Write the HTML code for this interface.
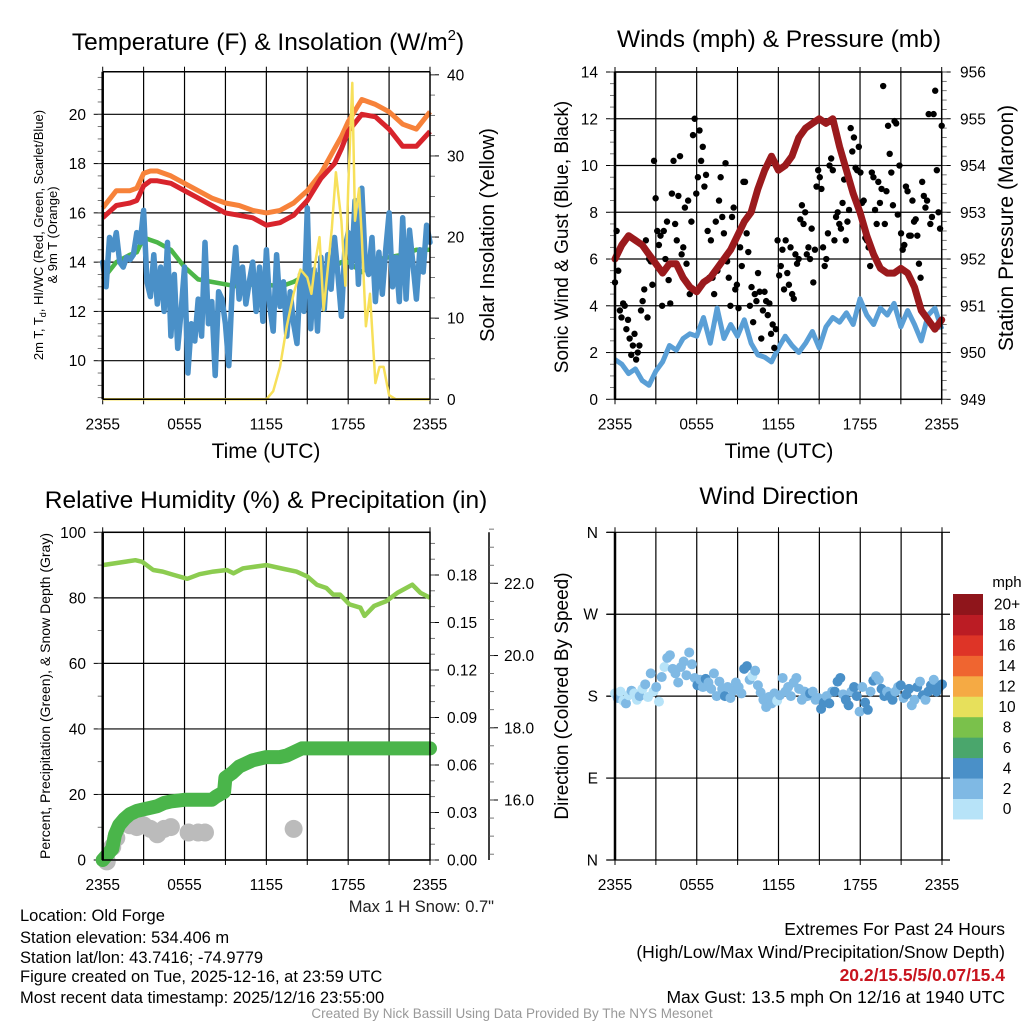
<!DOCTYPE html>
<html><head><meta charset="utf-8">
<style>
html,body{margin:0;padding:0;background:#fff;}
svg{display:block;font-family:"Liberation Sans",sans-serif;}
</style></head>
<body>
<svg id="c" width="1024" height="1024" viewBox="0 0 1024 1024" xmlns="http://www.w3.org/2000/svg">
<rect width="1024" height="1024" fill="#fff"/>
<g id="layer"></g>
<!-- titles -->
<text x="268" y="50" font-size="24.5" text-anchor="middle">Temperature (F) &amp; Insolation (W/m<tspan font-size="15" dy="-10">2</tspan><tspan dy="10">)</tspan></text>
<text x="779" y="47" font-size="24.5" text-anchor="middle">Winds (mph) &amp; Pressure (mb)</text>
<text x="266" y="508" font-size="24.5" text-anchor="middle">Relative Humidity (%) &amp; Precipitation (in)</text>
<text x="779" y="504" font-size="24.5" text-anchor="middle">Wind Direction</text>
<!-- axis titles -->
<text transform="translate(43,235) rotate(-90)" font-size="13" text-anchor="middle">2m T, T<tspan font-size="9" dy="3">d</tspan><tspan dy="-3">, HI/WC (Red, Green, Scarlet/Blue)</tspan></text>
<text transform="translate(57,235) rotate(-90)" font-size="13" text-anchor="middle">&amp; 9m T (Orange)</text>
<text transform="translate(494,235) rotate(-90)" font-size="20" text-anchor="middle">Solar Insolation (Yellow)</text>
<text x="266" y="458" font-size="21" text-anchor="middle">Time (UTC)</text>
<text transform="translate(568,237) rotate(-90)" font-size="19" text-anchor="middle">Sonic Wind &amp; Gust (Blue, Black)</text>
<text transform="translate(1013,228) rotate(-90)" font-size="21" text-anchor="middle">Station Pressure (Maroon)</text>
<text x="779" y="458" font-size="21" text-anchor="middle">Time (UTC)</text>
<text transform="translate(50,696) rotate(-90)" font-size="14" text-anchor="middle">Percent, Precipitation (Green), &amp; Snow Depth (Gray)</text>
<text transform="translate(568,696) rotate(-90)" font-size="19" text-anchor="middle">Direction (Colored By Speed)</text>
<text x="1007" y="587" font-size="15" text-anchor="middle">mph</text>
<text x="494" y="912" font-size="16.5" text-anchor="end" fill="#222">Max 1 H Snow: 0.7"</text>
<!-- footer -->
<g font-size="16.5" fill="#000">
<text x="20" y="921">Location: Old Forge</text>
<text x="20" y="943">Station elevation: 534.406 m</text>
<text x="20" y="963">Station lat/lon: 43.7416; -74.9779</text>
<text x="20" y="982">Figure created on Tue, 2025-12-16, at 23:59 UTC</text>
<text x="20" y="1003">Most recent data timestamp: 2025/12/16 23:55:00</text>
</g>
<g font-size="17.5" text-anchor="end">
<text x="1005" y="935">Extremes For Past 24 Hours</text>
<text x="1005" y="958">(High/Low/Max Wind/Precipitation/Snow Depth)</text>
<text x="1005" y="981" fill="#c8141e" font-weight="bold">20.2/15.5/5/0.07/15.4</text>
<text x="1005" y="1003">Max Gust: 13.5 mph On 12/16 at 1940 UTC</text>
</g>
<text x="512" y="1018" font-size="13.5" fill="#999" text-anchor="middle">Created By Nick Bassill Using Data Provided By The NYS Mesonet</text>
</svg>
<script>
// ---------- data ----------
const xTickLabels=["2355","0555","1155","1755","2355"];
const tempHours=[0,1,2,2.5,3,3.5,4,5,6,7,8,9,10,11,12,13,14,15,16,17,17.5,18,19,20,21,22,23,24];
const tempRed=[15.8,16.3,16.4,16.5,17.1,17.3,17.3,17.2,16.9,16.6,16.3,16.0,15.9,15.8,15.5,15.6,15.9,16.5,17.4,18.0,18.6,19.3,20.0,19.9,19.4,18.7,18.7,19.3];
const tempOrange=[16.2,16.9,16.9,17.0,17.6,17.7,17.7,17.5,17.2,16.9,16.6,16.4,16.3,16.1,16.0,16.1,16.4,16.9,17.6,18.6,19.1,19.7,20.6,20.4,20.1,19.6,19.4,20.1];
const tempGreen=[13.3,14.0,14.3,14.4,15.0,14.9,14.8,14.5,13.8,13.3,13.2,13.1,13.0,13.1,13.1,13.0,13.2,13.5,13.5,13.8,14.0,14.0,13.6,14.1,14.2,14.3,14.5,14.5];
const windChill=[14,13,15,14.5,15.2,14,13.8,14.2,14.1,14.3,15.2,14.8,16.1,13.2,12.6,14.3,12.3,13.8,12.0,14.8,11.0,13.5,10.5,12.0,13.8,9.5,11.5,10.8,12.5,11.0,14.8,11.5,12.4,9.4,12.8,12.5,11.5,9.8,13.0,14.6,12.5,13.8,12.3,13.2,14.0,12.0,13.8,11.6,14.5,12.2,11.2,14.3,12.2,13.2,11.0,12.8,11.5,10.7,13.5,12.0,16.2,11.3,13.7,11.2,14.2,12.1,14.3,12.9,15.0,13.5,11.8,14.5,15.2,13.8,16.5,13.1,17.0,14.0,13.5,15.0,12.4,14.4,12.7,14.5,16.0,13.0,14.2,12.4,15.8,12.5,15.3,13.9,12.5,14.5,13.6,15.5,14.8];
const solHours=[0,12,12.5,13,13.5,14,14.5,15,15.3,15.6,15.9,16.2,16.5,16.8,17.1,17.3,17.5,17.8,18.0,18.3,18.5,18.8,19.0,19.3,19.6,20,20.3,20.6,21,21.5,24];
const solVal=[0,0,1,4,9,13,16,15,13,17,20,11,16,21,28,25,22,14,26,39,22,26,20,9,13,2,4,4,0.5,0,0];
const windSpeed=[1.7,1.5,1.1,1.3,0.8,0.6,1.2,1.6,2.3,2.1,2.6,2.8,2.7,3.5,2.4,3.9,2.6,3.2,2.7,3.4,2.4,1.9,1.8,1.6,2.2,2.7,2.3,2.0,2.4,2.9,2.2,3.1,3.5,3.3,3.7,3.2,4.3,3.6,3.2,3.9,3.6,4.1,3.1,3.8,3.2,2.5,3.6,3.9,3.0];
const pressure=[952.0,952.3,952.5,952.4,952.3,952.1,951.9,951.7,951.9,951.9,951.6,951.4,951.3,951.5,951.6,951.8,952.0,952.2,952.5,952.8,953.0,953.5,953.9,954.2,953.9,954.0,954.2,954.6,954.8,954.9,955.0,954.9,955.0,954.4,953.9,953.4,953.0,952.5,952.1,951.8,951.7,951.7,951.8,951.7,951.4,950.9,950.7,950.5,950.7];
const gusts=[5.0,7.2,5.5,3.8,3.5,4.1,4.0,3.0,3.4,2.6,1.9,2.3,2.8,1.7,2.0,2.3,
3.8,4.2,4.7,6.8,3.5,6.0,5.9,4.9,10.2,8.6,7.2,6.6,7.0,4.0,7.2,6.0,
7.6,5.1,4.1,8.8,10.2,7.5,6.8,8.7,10.4,6.2,6.5,8.2,5.8,8.5,4.5,7.6,
11.3,12.0,8.8,9.5,11.5,10.2,10.8,9.1,9.6,7.2,5.2,6.8,5.2,4.5,7.6,5.5,
8.5,9.5,7.8,7.1,10.1,5.9,5.2,4.0,7.8,8.2,4.7,4.9,3.9,6.5,5.7,9.3,
9.3,7.1,6.3,4.0,4.8,3.3,4.5,4.2,5.4,4.6,2.6,3.8,4.6,4.2,3.6,4.1,2.8,3.2,2.2,3.0,
6.8,5.3,5.7,6.4,4.7,6.8,5.4,4.9,6.5,4.5,4.3,6.2,5.8,6.0,
7.7,8.3,7.5,8.0,6.2,6.5,6.0,7.3,5.0,6.4,9.1,9.8,9.5,9.0,6.5,5.7,6.0,
7.1,10.0,10.3,9.8,6.8,7.8,8.0,7.5,7.3,8.4,9.4,6.8,7.6,8.1,11.6,10.6,11.2,9.9,
9.8,10.8,9.7,8.4,8.5,6.9,6.8,6.5,5.7,9.7,9.5,8.1,7.5,9.3,8.4,9.0,13.4,
7.5,8.9,11.7,10.5,9.7,8.3,11.9,11.8,7.9,10.0,7.1,6.4,6.6,9.1,8.9,7.0,7.0,8.5,
7.6,7.7,7.0,5.8,5.2,9.3,8.7,8.2,8.5,12.2,7.5,7.8,12.2,13.2,9.8,8.0,7.3,11.7];
const rhHours=[0,2.4,2.9,3.7,4.4,5.2,6.2,7.1,8.1,9.1,9.6,10.3,12,13.3,14.2,15,15.7,16.4,16.9,17.4,18.1,18.9,19.2,19.9,20.8,21.6,22.7,23.3,24];
const rhVal=[90,91.5,91,88.5,88,87,85.8,87.2,88,88.5,87.5,89,90,88.8,88,86.5,84,83,81,81,78,77,74.5,77.5,79,81.5,84,81.5,80];
const precipHours=[0,0.3,0.7,0.9,1.2,1.6,2.0,2.5,3,3.5,4,4.5,5,6,7,8,8.3,8.9,9.0,9.5,10,10.5,11,12,13,13.5,14,14.6,24];
const precipVal=[0,0.003,0.007,0.016,0.022,0.026,0.029,0.031,0.032,0.033,0.034,0.036,0.037,0.038,0.038,0.038,0.040,0.043,0.052,0.055,0.059,0.061,0.063,0.065,0.065,0.066,0.068,0.0705,0.0705];
const snowHours=[0.3,0.7,1.0,1.6,2.0,2.5,3,3.5,4,4.5,5,6.3,7.0,7.5,14.0];
const snowVal=[14.3,14.7,14.95,15.35,15.3,15.25,15.3,15.2,15.05,15.2,15.25,15.1,15.1,15.1,15.2];
const dirs=[183,178,185,175,172,181,186,183,176,180,188,193,179,205,185,190,174,201,212,222,225,210,205,195,212,218,203,228,215,200,192,198,190,199,195,188,205,180,196,188,180,190,178,186,195,190,183,210,213,198,202,208,192,184,176,168,179,172,183,175,181,200,185,190,180,195,200,188,176,185,180,183,185,176,178,166,173,180,172,185,185,196,200,182,176,170,185,190,180,163,190,173,165,185,197,202,198,188,180,185,180,176,185,190,192,178,182,188,170,176,190,196,181,176,185,192,198,185,190,193];
const dirSpeeds=[1.5,2.5,1.2,1.8,2.2,1.0,2.6,1.5,1.3,2.4,1.8,2.2,1.1,2.5,1.6,2.8,1.4,2.9,1.2,3.1,2.6,2.4,3.0,2.8,2.3,2.5,3.2,2.7,2.6,3.4,4.2,3.1,2.6,4.3,2.8,3.0,2.4,3.5,2.6,2.9,4.1,2.5,3.0,2.7,3.3,2.6,2.4,4.4,4.1,2.5,1.8,2.8,2.6,3.0,2.7,2.5,3.1,2.4,2.8,1.9,2.6,3.5,2.4,3.2,2.9,2.7,3.0,2.6,2.8,3.3,3.0,4.2,3.1,2.8,3.4,4.4,4.2,3.6,4.3,3.2,4.1,4.5,4.3,3.5,4.2,4.4,3.3,4.2,4.6,3.2,3.0,4.1,4.4,3.6,4.2,3.1,3.5,4.3,4.2,3.3,4.1,4.4,3.6,2.9,4.2,3.2,4.3,4.0,3.4,3.1,4.2,3.6,4.5,3.2,4.1,4.6,3.5,4.2,4.4,4.5];
const cbarLabels=["0","2","4","6","8","10","12","14","16","18","20+"];
const cbarColors=["#b7e3f8","#7fb9e4","#4a90c8","#4aa66c","#7ac14b","#e7e05b","#f5aa44","#ef6530","#de3427","#bb1c24","#8f151b"];

// ---------- helpers ----------
const NS="http://www.w3.org/2000/svg";
const layer=document.getElementById('layer');
const TFS=15.5;
function mk(tag,attrs,parent){const e=document.createElementNS(NS,tag);for(const k in attrs)e.setAttribute(k,attrs[k]);(parent||layer).appendChild(e);return e;}
function lin(d0,d1,r0,r1){return v=>r0+(v-d0)*(r1-r0)/(d1-d0);}
function pathFrom(xs,ys,fx,fy){return xs.map((x,i)=>(i?'L':'M')+fx(x).toFixed(1)+','+fy(ys[i]).toFixed(1)).join('');}

function frame(L,R,T,B,name){
  const g=mk('g',{});
  
  
  const fx=lin(0,24,L,R);
  for(let h=3;h<24;h+=3){const x=fx(h);mk('line',{x1:x,y1:T,x2:x,y2:B,stroke:'#000','stroke-width':1.2},g);}
  for(let h=0;h<=24;h+=3){const x=fx(h);mk('line',{x1:x,y1:B,x2:x,y2:B+5,stroke:'#000','stroke-width':1},g);mk('line',{x1:x,y1:T-5,x2:x,y2:T,stroke:'#000','stroke-width':1},g);}
  xTickLabels.forEach((t,i)=>{const tx=mk('text',{x:fx(i*6),y:B+30,'font-size':TFS,'text-anchor':'middle'},g);tx.textContent=t;
    
    });
  return fx;
}
function hgrid(fy,vals,L,R,labels,lx,anchor,name,minorStep,vmin,vmax,tickSide){
  const g=mk('g',{});
  
  
  vals.forEach((v,i)=>{const y=fy(v);
    if(L!==null) mk('line',{x1:L,y1:y,x2:R,y2:y,stroke:'#000','stroke-width':1.2},g);
    mk('line',{x1:tickSide-(anchor==='end'?9:0),y1:y,x2:tickSide+(anchor==='end'?0:9),y2:y,stroke:'#000','stroke-width':1},g);
    const t=mk('text',{x:lx,y:y+5.5,'font-size':TFS,'text-anchor':anchor},g);t.textContent=labels[i];
    
    });
  if(minorStep){for(let v=vmin;v<=vmax+1e-9;v+=minorStep){const y=fy(v);mk('line',{x1:tickSide-(anchor==='end'?5:0),y1:y,x2:tickSide+(anchor==='end'?0:5),y2:y,stroke:'#555','stroke-width':0.8},g);}}
}

// ---------- Panel 1: temperature ----------
(function(){
  const L=102.7,R=430,T=71.7,B=399.3;
  const fx=frame(L,R,T,B,'temperature');
  const fy=lin(10,20,360.7,114.3), fs=lin(0,40,399.3,74.8);
  hgrid(fy,[10,12,14,16,18,20],L,R,["10","12","14","16","18","20"],86,'end','temperature-y-ticks',0.5,8.5,21.5,L);
  hgrid(fs,[0,10,20,30,40],null,R,["0","10","20","30","40"],447,'start','insolation-y-ticks',2.5,0,40,R);
  let p;
  p=mk('path',{d:pathFrom(tempHours,tempGreen,fx,fy),fill:'none',stroke:'#4cb648','stroke-width':4.5,'stroke-linejoin':'round'});
  
  const wcH=windChill.map((v,i)=>i*24/(windChill.length-1));
  p=mk('path',{d:pathFrom(wcH,windChill,fx,fy),fill:'none',stroke:'#4a90c8','stroke-width':5.5,'stroke-linejoin':'round','stroke-linecap':'round'});
  
  p=mk('path',{d:pathFrom(tempHours,tempOrange,fx,fy),fill:'none',stroke:'#f7823a','stroke-width':5,'stroke-linejoin':'round'});
  
  p=mk('path',{d:pathFrom(tempHours,tempRed,fx,fy),fill:'none',stroke:'#d8242c','stroke-width':5,'stroke-linejoin':'round'});
  
  p=mk('path',{d:pathFrom(solHours,solVal,fx,fs),fill:'none',stroke:'#f7e05a','stroke-width':2.5,'stroke-linejoin':'round'});
  
  const ax=mk('g',{});
  mk('line',{x1:L,y1:T,x2:R,y2:T,stroke:'#000','stroke-width':1.5},ax);
  mk('line',{x1:L,y1:B,x2:R,y2:B,stroke:'#000','stroke-width':1.5},ax);
  mk('line',{x1:L,y1:T,x2:L,y2:B,stroke:'#000','stroke-width':2.5},ax);
  mk('line',{x1:R,y1:T,x2:R,y2:B,stroke:'#000','stroke-width':1.5},ax);
})();

// ---------- Panel 2: winds ----------
(function(){
  const L=615,R=941.7,T=72,B=399.3;
  const fx=frame(L,R,T,B,'winds');
  const fy=lin(0,14,B,T), fp=lin(949,956,B,T);
  hgrid(fy,[0,2,4,6,8,10,12,14],L,R,["0","2","4","6","8","10","12","14"],598,'end','wind-y-ticks',0.5,0,14,L);
  hgrid(fp,[949,950,951,952,953,954,955,956],null,R,["949","950","951","952","953","954","955","956"],960,'start','pressure-y-ticks',0.2,949,956,R);
  const wh=windSpeed.map((v,i)=>i*0.5);
  let p=mk('path',{d:pathFrom(wh,windSpeed,fx,fy),fill:'none',stroke:'#5a9fd6','stroke-width':5,'stroke-linejoin':'round'});
  
  const gg=mk('g',{});
  gusts.forEach((v,i)=>{const c=mk('circle',{cx:fx(i*24/(gusts.length-1)),cy:fy(v),r:3.2,fill:'#000'},gg);
    
    });
  p=mk('path',{d:pathFrom(wh,pressure,fx,fp),fill:'none',stroke:'#9b1a1d','stroke-width':7,'stroke-linejoin':'round','stroke-linecap':'round'});
  
  const ax=mk('g',{});
  mk('rect',{x:L,y:T,width:R-L,height:B-T,fill:'none',stroke:'#000','stroke-width':1.5},ax);
  mk('line',{x1:L,y1:T,x2:L,y2:B,stroke:'#000','stroke-width':2.5},ax);
})();

// ---------- Panel 3: humidity ----------
(function(){
  const L=102.7,R=430,T=532.3,B=860;
  const fx=frame(L,R,T,B,'humidity');
  const fy=lin(0,100,B,T), fpr=lin(0,0.18,B,575), fsn=lin(16,22,800,583.3);
  hgrid(fy,[0,20,40,60,80,100],L,R,["0","20","40","60","80","100"],86,'end','humidity-y-ticks',10,0,100,L);
  hgrid(fpr,[0,0.03,0.06,0.09,0.12,0.15,0.18],null,R,["0.00","0.03","0.06","0.09","0.12","0.15","0.18"],447,'start','precip-y-ticks',0.01,0,0.2,R);
  const sx=489;
  mk('line',{x1:sx,y1:T,x2:sx,y2:B,stroke:'#000','stroke-width':1.5});
  hgrid(fsn,[16,18,20,22],null,sx,["16.0","18.0","20.0","22.0"],504,'start','snow-y-ticks',0.5,14.5,23.5,sx);
  const sg=mk('g',{});
  snowHours.forEach((h,i)=>{const c=mk('circle',{cx:fx(h),cy:fsn(snowVal[i]),r:9,fill:'#bbbbbb'},sg);
    
    });
  let p=mk('path',{d:pathFrom(precipHours,precipVal,fx,fpr),fill:'none',stroke:'#4ab54a','stroke-width':14,'stroke-linejoin':'round','stroke-linecap':'round'});
  
  p=mk('path',{d:pathFrom(rhHours,rhVal,fx,fy),fill:'none',stroke:'#8ccc50','stroke-width':4.5,'stroke-linejoin':'round'});
  
  const ax=mk('g',{});
  mk('rect',{x:L,y:T,width:R-L,height:B-T,fill:'none',stroke:'#000','stroke-width':1.5},ax);
  mk('line',{x1:L,y1:T,x2:L,y2:B,stroke:'#000','stroke-width':2.5},ax);
})();

// ---------- Panel 4: wind direction ----------
(function(){
  const L=615,R=942,T=532.3,B=860;
  const fx=frame(L,R,T,B,'direction');
  const fy=lin(0,360,B,T);
  hgrid(fy,[0,90,180,270,360],L-8,R+8,["N","E","S","W","N"],598,'end','direction-y-ticks',0,0,0,L);
  function col(s){let i=Math.floor(s/2);if(i>10)i=10;if(i<0)i=0;return cbarColors[i];}
  const dg=mk('g',{});
  dirs.forEach((d,i)=>{const c=mk('circle',{cx:fx(i*24/(dirs.length-1)),cy:fy(d),r:5,fill:col(dirSpeeds[i])},dg);
    
    });
  const ax=mk('g',{});
  mk('line',{x1:L,y1:T,x2:L,y2:B,stroke:'#000','stroke-width':2.5},ax);
  mk('line',{x1:R,y1:T,x2:R,y2:B,stroke:'#000','stroke-width':1.5},ax);
  const cb=mk('g',{});
  const top=594,bh=20.45;
  cbarColors.forEach((c,i)=>{const y=top+(10-i)*bh;
    const r=mk('rect',{x:953,y:y,width:30,height:bh+0.5,fill:c},cb);
    
    
    const t=mk('text',{x:1007,y:y+bh/2+5.5,'font-size':TFS,'text-anchor':'middle'},cb);t.textContent=cbarLabels[i];
    
    });
})();
</script>
</body></html>
